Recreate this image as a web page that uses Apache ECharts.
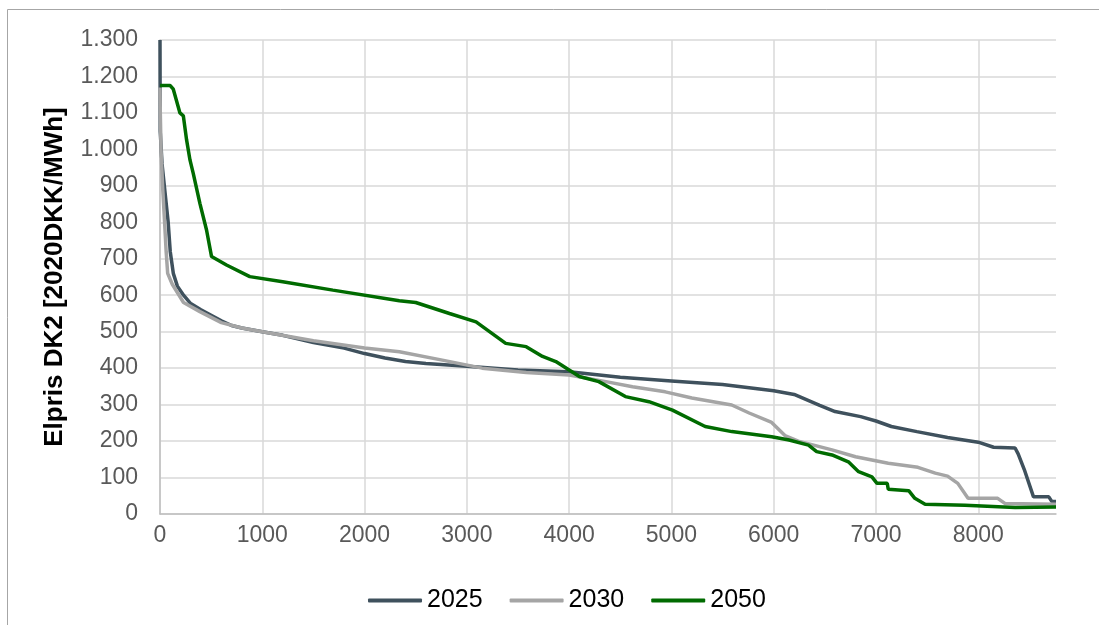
<!DOCTYPE html>
<html>
<head>
<meta charset="utf-8">
<style>
  html, body { margin: 0; padding: 0; background: #fff; }
  #chart { width: 1099px; height: 625px; }
</style>
<script src="https://cdn.jsdelivr.net/npm/echarts@6/dist/echarts.min.js"></script>
</head>
<body>
<div id="chart"></div>
<script>
var seriesNames = ['2025', '2030', '2050'];

var hours2025 = [0, 2, 20, 50, 80, 100, 130, 170, 230, 300, 400, 500, 600, 700, 800, 1000, 1200, 1500, 1800, 2000, 2200, 2400, 2600, 3000, 3500, 4000, 4500, 5000, 5500, 5800, 6000, 6200, 6450, 6600, 6850, 7000, 7150, 7400, 7700, 8000, 8150, 8360, 8390, 8450, 8540, 8690, 8720, 8760];
var price2025 = [1300, 1050, 960, 880, 800, 720, 660, 625, 600, 577, 560, 545, 530, 517, 510, 500, 490, 470, 455, 440, 428, 418, 413, 405, 395, 390, 375, 365, 355, 345, 338, 328, 298, 281, 267, 255, 240, 226, 210, 197, 183, 181, 165, 122, 47, 47, 34, 34];

var hours2030 = [0, 3, 10, 25, 45, 60, 75, 120, 230, 390, 600, 800, 1000, 1500, 2000, 2340, 2760, 3150, 3580, 4000, 4360, 4620, 4940, 5200, 5590, 5760, 5980, 6110, 6240, 6570, 6800, 7120, 7410, 7580, 7700, 7800, 7900, 8190, 8260, 8760];
var price2030 = [1170, 1100, 1000, 900, 800, 720, 660, 630, 580, 555, 525, 510, 500, 475, 455, 445, 422, 400, 388, 381, 363, 349, 335, 318, 299, 277, 251, 215, 200, 176, 157, 139, 128, 112, 104, 84, 43, 43, 29, 27];

var hours2050 = [0, 100, 130, 195, 228, 260, 293, 325, 390, 455, 504, 650, 878, 1200, 1690, 2340, 2500, 2830, 3090, 3380, 3580, 3740, 3870, 4100, 4290, 4550, 4780, 5010, 5330, 5590, 5980, 6150, 6340, 6420, 6570, 6730, 6830, 6960, 7010, 7110, 7120, 7320, 7380, 7480, 7870, 8360, 8760];
var price2050 = [1175, 1175, 1165, 1100, 1092, 1026, 971, 934, 852, 779, 706, 683, 651, 637, 614, 585, 580, 550, 527, 468, 459, 432, 418, 377, 363, 322, 308, 285, 240, 226, 212, 203, 189, 171, 162, 143, 116, 102, 84, 84, 68, 64, 43, 27, 24, 18, 19];

var colors = ['#3f515d', '#a5a5a5', '#006b00'];

function pairs(xs, ys) {
  return xs.map(function (x, i) { return [x, ys[i]]; });
}

var chart = echarts.init(document.getElementById('chart'), null, { renderer: 'canvas' });
var font = 'Liberation Sans, Arial, sans-serif';

function lineSeries(name, data, color) {
  return {
    name: name,
    type: 'line',
    data: data,
    symbol: 'none',
    lineStyle: { color: color, width: 3.5 },
    itemStyle: { color: color }
  };
}

chart.setOption({
  animation: false,
  color: colors,
  textStyle: { fontFamily: font },
  graphic: [{
    type: 'rect',
    shape: { x: 7.5, y: 9.5, width: 1200, height: 800 },
    style: { fill: 'none', stroke: '#a6a6a6', lineWidth: 1 },
    silent: true
  }],
  grid: { left: 160, right: 43, top: 40, bottom: 111 },
  legend: {
    left: 363,
    top: 583,
    icon: 'roundRect',
    itemWidth: 54,
    itemHeight: 4,
    itemGap: 27,
    textStyle: { color: '#000', fontSize: 25, fontFamily: font },
    data: seriesNames
  },
  xAxis: {
    type: 'value',
    min: 0,
    max: 8760,
    interval: 1000,
    axisLine: { show: true, lineStyle: { color: '#bfbfbf', width: 1.5 } },
    axisTick: { show: false },
    axisLabel: {
      color: '#595959',
      fontSize: 23,
      margin: 10,
      showMaxLabel: false,
      formatter: function (v) { return String(v); }
    },
    splitLine: { show: true, showMaxLine: false, lineStyle: { color: '#d9d9d9', width: 1.5 } }
  },
  yAxis: {
    type: 'value',
    min: 0,
    max: 1300,
    interval: 100,
    name: 'Elpris DK2 [2020DKK/MWh]',
    nameLocation: 'middle',
    nameGap: 92,
    nameTextStyle: { color: '#000', fontSize: 26, fontWeight: 'bold', fontFamily: font },
    axisLine: { show: true, lineStyle: { color: '#bfbfbf', width: 1.5 } },
    axisTick: { show: false },
    axisLabel: {
      color: '#595959',
      fontSize: 23,
      margin: 22,
      formatter: function (v) {
        return String(v).replace(/\B(?=(\d{3})+(?!\d))/g, '.');
      }
    },
    splitLine: { show: true, lineStyle: { color: '#d9d9d9', width: 1.5 } }
  },
  series: [
    lineSeries(seriesNames[0], pairs(hours2025, price2025), colors[0]),
    lineSeries(seriesNames[1], pairs(hours2030, price2030), colors[1]),
    lineSeries(seriesNames[2], pairs(hours2050, price2050), colors[2])
  ]
});
</script>
</body>
</html>
